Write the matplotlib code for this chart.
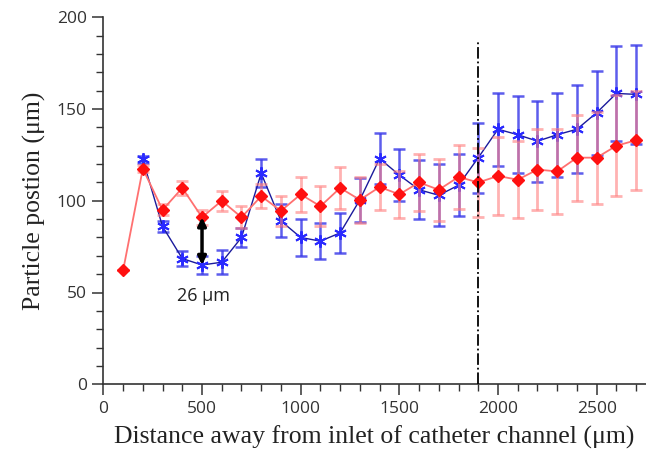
import numpy as np
import matplotlib.pyplot as plt
from matplotlib.ticker import MultipleLocator

# distance from inlet (um)
dist_red = [100, 200, 300, 400, 500, 600, 700, 800, 900, 1000, 1100, 1200, 1300, 1400,
            1500, 1600, 1700, 1800, 1900, 2000, 2100, 2200, 2300, 2400, 2500, 2600, 2700]
pos_red = [62, 117.5, 95, 107, 91, 100, 91, 102.5, 94.5, 103.5, 97, 107, 100.5, 107.5,
           103.5, 110, 106, 113, 110, 113.5, 111.5, 117, 116, 123.5, 123.5, 130, 133]
err_red = [0, 2, 3, 4, 4, 5.5, 6, 6.5, 8, 9.5, 11, 11.5, 12.5, 12.5,
           13, 15.5, 17, 17.5, 19, 21, 21, 22, 23, 23.5, 25, 27.5, 27]

dist_blue = dist_red[1:]
pos_blue = [122.5, 86, 68.5, 65, 66.5, 80, 115, 89, 80, 78, 82.5, 100.5, 123,
            114, 106, 103, 108.5, 123.5, 139, 136, 132.5, 136, 139, 148, 158.5, 158]
err_blue = [2, 3, 4, 5, 6.5, 5, 7.5, 9, 10, 10, 11, 12, 14,
            14, 16, 17, 17, 19, 20, 21, 22, 23, 24, 23, 26, 27]

outlet_x = 1900
gap_x = 500
gap_low, gap_high = 65, 91

fig = plt.figure(figsize=(6.46, 4.68), dpi=100)
ax = fig.add_axes([0.16, 0.179, 0.84, 0.784])

# blue series
ax.errorbar(dist_blue, pos_blue, yerr=err_blue, fmt='none', ecolor='#3535e8',
            elinewidth=1.8, capsize=4, capthick=1.8, alpha=0.8, zorder=2)
ax.plot(dist_blue, pos_blue, color='#1a1a9c', lw=1.0, zorder=3)
ax.plot(dist_blue, pos_blue, ls='none', marker=(6, 2, 0), ms=9, mew=1.4,
        color='#2a2aff', zorder=3)

# red series
ax.errorbar(dist_red, pos_red, yerr=err_red, fmt='none', ecolor='#ff8080',
            elinewidth=2, capsize=4, capthick=2, alpha=0.6, zorder=4)
ax.plot(dist_red, pos_red, color='#ff7070', lw=1.3, zorder=5)
ax.plot(dist_red, pos_red, ls='none', marker='D', ms=6, color='#ff1010', zorder=6)

ax.plot([outlet_x, outlet_x], [0, 187], color='black', ls='-.', lw=1.3, zorder=7)

ax.annotate('', xy=(gap_x, gap_low), xytext=(gap_x, gap_high),
            arrowprops=dict(arrowstyle='<|-|>', color='black', lw=2.5,
                            mutation_scale=12, shrinkA=0, shrinkB=0), zorder=8)
ax.text(505, 48, '26 μm', ha='center', va='center', fontsize=13, color='#222222',
        family='Open Sans')

ax.set_xlim(0, 2750)
ax.set_ylim(0, 200)
ax.xaxis.set_major_locator(MultipleLocator(500))
ax.xaxis.set_minor_locator(MultipleLocator(100))
ax.yaxis.set_major_locator(MultipleLocator(50))
ax.yaxis.set_minor_locator(MultipleLocator(10))

for s in ['top', 'right']:
    ax.spines[s].set_visible(False)
for s in ['left', 'bottom']:
    ax.spines[s].set_color('#333333')
    ax.spines[s].set_linewidth(1.2)

ax.tick_params(which='major', direction='out', length=8, width=1.1, color='#333333',
               labelsize=12.5, labelcolor='#333333', pad=4)
ax.tick_params(which='minor', direction='out', length=5, width=1.0, color='#333333')
for lab in ax.get_xticklabels() + ax.get_yticklabels():
    lab.set_family('Open Sans')

ax.set_xlabel('Distance away from inlet of catheter channel (μm)', fontsize=18.5,
              family='Liberation Serif', color='#222222', labelpad=6)
ax.set_ylabel('Particle postion (μm)', fontsize=18.5, family='Liberation Serif',
              color='#222222', labelpad=8)

fig.savefig('out.png', dpi=100)
